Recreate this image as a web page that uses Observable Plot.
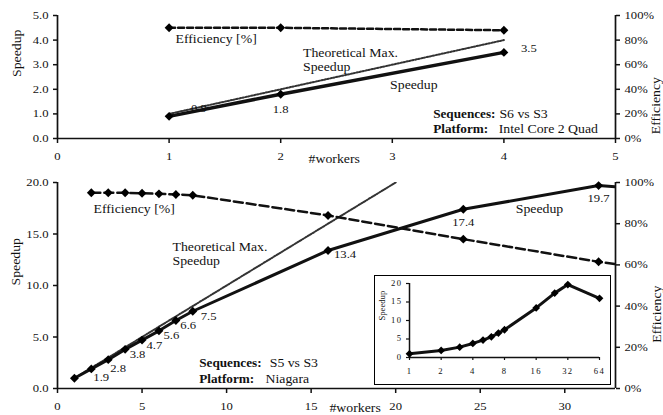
<!DOCTYPE html>
<html><head><meta charset="utf-8">
<script src="https://cdn.jsdelivr.net/npm/d3@7"></script>
<script src="https://cdn.jsdelivr.net/npm/@observablehq/plot@0.6"></script>
<style>
body{margin:0;background:#fff}
#chart{position:relative;width:663px;height:415px;background:#fff;overflow:hidden}
#chart svg{position:absolute;overflow:visible}
#chart svg, #chart svg text{font-family:"Liberation Serif","Times New Roman",serif !important}
</style></head><body><div id="chart"></div>
<script>
// ---- Top panel: Intel Core 2 Quad, S6 vs S3 ----
const quadWorkers = [1, 2, 4];
const quadSpeedup = [0.9, 1.8, 3.5];
const quadEfficiency = [90, 90, 88];
const quadTheoreticalWorkers = [1, 4];
const quadXTicks = [0, 1, 2, 3, 4, 5];
const quadYTicks = [0, 1, 2, 3, 4, 5];

// ---- Bottom panel: Niagara, S5 vs S3 ----
const niagaraWorkers = [1, 2, 3, 4, 5, 6, 7, 8, 16, 24, 32, 64];
const niagaraSpeedup = [1.0, 1.9, 2.8, 3.8, 4.7, 5.6, 6.6, 7.5, 13.4, 17.4, 19.7, 16.0];
const niagaraEffWorkers = [2, 3, 4, 5, 6, 7, 8, 16, 24, 32, 64];
const niagaraEfficiency = [95, 95, 95, 94.8, 94.5, 94.2, 93.8, 84, 72.5, 61.5, 25];
const niagaraTheoreticalWorkers = [1, 20];
const niagaraXTicks = [0, 5, 10, 15, 20, 25, 30];
const niagaraYTicks = [0, 5, 10, 15, 20];

// ---- Inset ----
const insetXTicks = [1, 2, 4, 8, 16, 32, 64];
const insetYTicks = [0, 5, 10, 15, 20];

const quad = quadWorkers.map((w, i) => ({workers: w, speedup: quadSpeedup[i], efficiency: quadEfficiency[i]}));
const niagara = niagaraWorkers.map((w, i) => ({workers: w, speedup: niagaraSpeedup[i]}));
const niagaraEff = niagaraEffWorkers.map((w, i) => ({workers: w, efficiency: niagaraEfficiency[i]}));

const serif = "Liberation Serif, Times New Roman, serif";
const f1 = d3.format(".1f");
const f0 = d => String(d);
const ann = (str, x, y, o = {}) => Plot.text([str], {x: () => x, y: () => y, text: d => d, textAnchor: "start", fontSize: 12, lineHeight: 1.17, ...o});
const bold = {fontWeight: "bold", fontSize: 11.5};

// ---------- TOP ----------
const qEff = d => d.efficiency / 100 * 5;
const topPlot = Plot.plot({
  width: 663, height: 160,
  marginLeft: 57, marginRight: 48, marginTop: 15, marginBottom: 22,
  style: {fontFamily: serif, fontSize: "11px", background: "transparent", color: "#111", overflow: "visible"},
  x: {domain: [0, 5]},
  y: {domain: [0, 5]},
  marks: [
    Plot.axisY({ticks: quadYTicks, tickFormat: f1, tickSize: 4, tickPadding: 5, strokeWidth: 1.5, label: null}),
    Plot.axisY({anchor: "right", ticks: quadYTicks, tickFormat: d => `${Math.round(d * 20)}%`, tickSize: 4, tickPadding: 5, strokeWidth: 1.5, label: null}),
    Plot.axisX({ticks: quadXTicks, tickFormat: f0, tickSize: 5, tickPadding: 9, strokeWidth: 1.5, label: null}),
    Plot.ruleX([0, 5], {strokeWidth: 1.7}),
    Plot.ruleY([0], {strokeWidth: 1.7}),
    Plot.line(quadTheoreticalWorkers, {x: d => d, y: d => d, stroke: "#333", strokeWidth: 2, strokeDasharray: "1.5,1.5"}),
    Plot.line(quad, {x: "workers", y: "speedup", strokeWidth: 3.5}),
    Plot.line(quad, {x: "workers", y: qEff, strokeWidth: 2.5, strokeDasharray: "6,3"}),
    Plot.dot(quad, {x: "workers", y: "speedup", symbol: "diamond2", r: 4, fill: "black"}),
    Plot.dot(quad, {x: "workers", y: qEff, symbol: "diamond2", r: 4, fill: "black"}),
    Plot.text(quad, {filter: d => d.workers === 1, x: "workers", y: "speedup", text: d => f1(d.speedup), textAnchor: "start", dx: 22, dy: -8}),
    Plot.text(quad, {filter: d => d.workers === 2, x: "workers", y: "speedup", text: d => f1(d.speedup), dy: 15}),
    Plot.text(quad, {filter: d => d.workers === 4, x: "workers", y: "speedup", text: d => f1(d.speedup), textAnchor: "start", dx: 17, dy: -4}),
    ann("Efficiency [%]", 1.057, 4.07),
    ann("Theoretical Max.\nSpeedup", 2.2, 3.21),
    ann("Speedup", 2.98, 2.2),
    ann("Sequences:", 3.366, 1.0, bold),
    ann("S6 vs S3", 3.96, 1.0),
    ann("Platform:", 3.366, 0.39, bold),
    ann("Intel Core 2 Quad", 3.954, 0.39),
    ann("#workers", 2.48, 0, {textAnchor: "middle", dy: 20}),
    Plot.text(["Speedup"], {frameAnchor: "left", text: d => d, rotate: -90, dx: -40, fontSize: 12}),
    Plot.text(["Efficiency"], {frameAnchor: "right", text: d => d, rotate: -90, dx: 41, fontSize: 12})
  ]
});

// ---------- BOTTOM ----------
const nEff = d => d.efficiency / 100 * 20;
const lbl = (filter, o) => Plot.text(niagara, {filter, x: "workers", y: "speedup", text: d => f1(d.speedup), fontSize: 11, ...o});
const botPlot = Plot.plot({
  width: 663, height: 255,
  marginLeft: 57, marginRight: 48, marginTop: 22, marginBottom: 27,
  style: {fontFamily: serif, fontSize: "11px", background: "transparent", color: "#111", overflow: "visible"},
  x: {domain: [0, 33]},
  y: {domain: [0, 20]},
  marks: [
    Plot.axisY({ticks: niagaraYTicks, tickFormat: f1, tickSize: 4, tickPadding: 5, strokeWidth: 1.5, label: null}),
    Plot.axisY({anchor: "right", ticks: [0, 4, 8, 12, 16, 20], tickFormat: d => `${Math.round(d * 5)}%`, tickSize: 4, tickPadding: 5, strokeWidth: 1.5, label: null}),
    Plot.axisX({ticks: niagaraXTicks, tickFormat: f0, tickSize: 5, tickPadding: 9, strokeWidth: 1.5, label: null}),
    Plot.ruleX([0, 33], {strokeWidth: 1.7}),
    Plot.ruleY([0], {strokeWidth: 1.7}),
    Plot.line(niagaraTheoreticalWorkers, {x: d => d, y: d => d, stroke: "#333", strokeWidth: 2, strokeDasharray: "1.5,1.5", clip: true}),
    Plot.line(niagara, {x: "workers", y: "speedup", strokeWidth: 3, clip: true}),
    Plot.line(niagaraEff, {x: "workers", y: nEff, strokeWidth: 2.5, strokeDasharray: "9,4", clip: true}),
    Plot.dot(niagara, {filter: d => d.workers <= 32, x: "workers", y: "speedup", symbol: "diamond2", r: 4, fill: "black"}),
    Plot.dot(niagaraEff, {filter: d => d.workers <= 32, x: "workers", y: nEff, symbol: "diamond2", r: 4, fill: "black"}),
    lbl(d => d.workers >= 2 && d.workers <= 3, {textAnchor: "start", dx: 2, dy: 9}),
    lbl(d => d.workers >= 4 && d.workers <= 7, {textAnchor: "start", dx: 4.5, dy: 5}),
    lbl(d => d.workers === 8, {textAnchor: "start", dx: 8, dy: 5.5}),
    lbl(d => d.workers === 16, {textAnchor: "start", dx: 6, dy: 4}),
    lbl(d => d.workers === 24 || d.workers === 32, {dy: 13}),
    ann("Efficiency [%]", 2.13, 17.45),
    ann("Theoretical Max.\nSpeedup", 6.8, 13.1),
    ann("Speedup", 27.1, 17.45),
    ann("Sequences:", 8.38, 2.5, bold),
    ann("S5 vs S3", 12.55, 2.5),
    ann("Platform:", 8.38, 0.94, bold),
    ann("Niagara", 12.3, 0.94),
    ann("#workers", 17.6, 0, {textAnchor: "middle", dy: 19}),
    Plot.text(["Speedup"], {frameAnchor: "left", text: d => d, rotate: -90, dx: -41, fontSize: 12}),
    Plot.text(["Efficiency"], {frameAnchor: "right", text: d => d, rotate: -90, dx: 42, fontSize: 12})
  ]
});

// ---------- INSET ----------
const insetPlot = Plot.plot({
  width: 235, height: 108,
  marginLeft: 34, marginRight: 11, marginTop: 7, marginBottom: 27,
  style: {fontFamily: serif, fontSize: "7.5px", background: "white", color: "#111"},
  x: {type: "log", base: 2, domain: [1, 64]},
  y: {domain: [0, 20]},
  marks: [
    Plot.axisX({ticks: insetXTicks, tickFormat: f0, tickSize: 3, tickPadding: 8, strokeWidth: 1.2, label: null}),
    Plot.axisY({ticks: insetYTicks, tickFormat: f0, tickSize: 3, tickPadding: 4, strokeWidth: 1.2, label: null}),
    Plot.ruleX([1], {strokeWidth: 1.5}),
    Plot.ruleY([0], {strokeWidth: 1.5}),
    Plot.line(niagara, {x: "workers", y: "speedup", strokeWidth: 3}),
    Plot.dot(niagara, {x: "workers", y: "speedup", symbol: "diamond2", r: 3.5, fill: "black"}),
    Plot.text(["Speedup"], {frameAnchor: "left", text: d => d, rotate: -90, dx: -27, fontSize: 7.5})
  ]
});

const chart = document.getElementById("chart");
topPlot.style.left = "0px"; topPlot.style.top = "0px";
botPlot.style.left = "0px"; botPlot.style.top = "160px";
insetPlot.style.left = "374px"; insetPlot.style.top = "275px";
insetPlot.style.border = "1.5px solid black";
chart.append(topPlot, botPlot, insetPlot);

// widen glyphs to mimic the original's wide Computer-Modern-like face
for (const svg of [topPlot, botPlot, insetPlot]) {
  svg.setAttribute("font-family", serif);
  svg.querySelectorAll("text").forEach(t => {
    const tr = t.getAttribute("transform");
    if (tr) t.setAttribute("transform", tr + " scale(1.15,1)");
    else {
      const x = +(t.getAttribute("x") || 0), y = +(t.getAttribute("y") || 0);
      t.removeAttribute("x"); t.removeAttribute("y");
      t.setAttribute("transform", `translate(${x},${y}) scale(1.15,1)`);
    }
  });
}
insetPlot.querySelectorAll('g[aria-label$="tick label"] text').forEach(t => t.style.letterSpacing = "1.2px");
</script></body></html>
